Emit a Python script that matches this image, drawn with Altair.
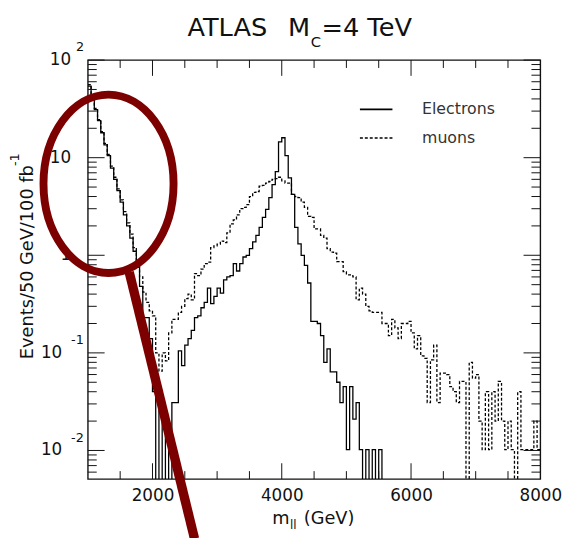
import altair as alt
import pandas as pd

# ---------------- data ----------------
series_names = ["Electrons", "muons"]
bin_low = 1000
bin_width = 50

electrons = [
    54, 41, 31, 24, 18, 13.5, 10.5, 7.8, 6.0, 4.6,
    3.5, 2.6, 2.0, 1.5, 1.1, 0.75, 0.48, 0.23, 0.23, 0.14,
    0.04, 0, 0.03, 0, 0.02, 0, 0.031, 0.031, 0.105, 0.074,
    0.12, 0.14, 0.17, 0.23, 0.24, 0.29, 0.33, 0.46, 0.32, 0.38,
    0.46, 0.41, 0.56, 0.6, 0.62, 0.82, 0.69, 0.82, 0.96, 1.0,
    1.17, 1.37, 1.6, 1.93, 2.44, 2.95, 3.9, 5.3, 7.2, 14.5,
    16.0, 10.5, 6.2, 4.2, 1.93, 1.31, 1.0, 0.79, 0.52, 0.21,
    0.21, 0.2, 0.15, 0.08, 0.11, 0.064, 0.064, 0.05, 0.031, 0.045,
    0.0102, 0.045, 0.021, 0.031, 0.0102, 0, 0.0102, 0, 0.0102, 0,
    0.0102, 0, 0, 0, 0, 0, 0, 0, 0, 0,
    0, 0, 0, 0, 0, 0, 0, 0, 0, 0,
    0, 0, 0, 0, 0, 0, 0, 0, 0, 0,
    0, 0, 0, 0, 0, 0, 0, 0, 0, 0,
    0, 0, 0, 0, 0, 0, 0, 0, 0, 0,
]

muons = [
    56, 42, 32, 24.5, 18.5, 14, 10.8, 8.2, 6.3, 4.8,
    3.7, 2.8, 2.15, 1.65, 1.2, 0.85, 0.6, 0.42, 0.33, 0.27,
    0.24, 0.1, 0.065, 0.1, 0.083, 0.16, 0.22, 0.22, 0.26, 0.3,
    0.36, 0.4, 0.35, 0.65, 0.62, 0.72, 0.82, 0.85, 1.2, 1.25,
    1.3, 1.4, 1.35, 1.7, 2.1, 2.3, 2.6, 3.0, 3.1, 3.3,
    4.0, 4.4, 4.5, 5.1, 5.2, 5.5, 5.7, 6.0, 6.1, 6.3,
    5.8, 5.5, 5.5, 4.2, 4.0, 3.9, 3.5, 3.1, 2.5, 2.44,
    1.86, 1.86, 1.6, 1.5, 1.17, 1.08, 1.05, 0.86, 0.86, 0.68,
    0.63, 0.63, 0.6, 0.35, 0.46, 0.4, 0.3, 0.27, 0.26, 0.26,
    0.26, 0.2, 0.2, 0.15, 0.22, 0.18, 0.14, 0.2, 0.2, 0.21,
    0.16, 0.11, 0.15, 0.093, 0.088, 0.031, 0.085, 0.12, 0.031, 0.062,
    0.062, 0.06, 0.045, 0.04, 0.031, 0.051, 0.051, 0, 0.08, 0.055,
    0.06, 0.02, 0.0102, 0.04, 0.0102, 0.04, 0.02, 0.051, 0.02, 0.0102,
    0.02, 0.0102, 0, 0.04, 0.0102, 0.0102, 0.0102, 0.0102, 0.02, 0.0102,
]
assert len(electrons) == 140 and len(muons) == 140

x_label_values = [2000, 4000, 6000, 8000]
x_major_ticks = [2000, 4000, 6000]
x_minor_ticks = [1500, 2500, 3000, 3500, 4500, 5000, 5500, 6500, 7000, 7500]
y_decades = [0.01, 0.1, 1, 10, 100]
y_label_base = ["10", "10", "1", "10", "10"]
y_label_sup = ["-2", "-1", "", "", "2"]
y_minor_ticks = [k * d for d in [0.001, 0.01, 0.1, 1, 10] for k in range(2, 10)]

x_domain = [1000, 8000]
y_domain = [0.0051, 100]

# annotation (hand-drawn marks on the original figure), in data coordinates
ellipse_center = {"m": 1320, "vplot": 5.4}
stroke_line = {"m": 1640, "vplot": 0.673, "m2": 2650, "v2": 0.00125}

# ---------------- style ----------------
W, H = 459, 425
FONT = "DejaVu Sans"
INK = "#111111"
RED = "#7d0000"

xscale = alt.Scale(domain=x_domain, nice=False, zero=False)
yscale = alt.Scale(type="log", domain=y_domain, nice=False)
xaxis = alt.Axis(values=x_label_values, ticks=False, domain=False, grid=False,
                 labelFont=FONT, labelFontSize=17, labelPadding=9,
                 labelFlush=False, labelOverlap=False, labelColor=INK,
                 format="d", title=None)

rows = []
for name, vals in zip(series_names, [electrons, muons]):
    for i, v in enumerate(vals):
        rows.append({"series": name, "m": bin_low + bin_width * i, "v": v})
    rows.append({"series": name, "m": bin_low + bin_width * len(vals), "v": vals[-1]})
hist = pd.DataFrame(rows)

X = alt.X("m:Q", scale=xscale, axis=xaxis)
Y = alt.Y("vplot:Q", scale=yscale, axis=None)

lines = alt.Chart(hist).transform_calculate(
    vplot="max(datum.v, 0.0001)"
).mark_line(interpolate="step-after", clip=True, color="black", strokeWidth=1.3).encode(
    x=X, y=Y,
    strokeDash=alt.StrokeDash("series:N", scale=alt.Scale(domain=series_names, range=[[1, 0], [3, 2]]), legend=None),
    detail="series:N",
)

layers = [lines]

# x ticks (inside, bottom and top)
for vals, ln in [(x_major_ticks, 16), (x_minor_ticks, 8)]:
    d = pd.DataFrame({"m": vals})
    layers.append(alt.Chart(d).mark_rule(color=INK, strokeWidth=1).encode(
        x=X, y=alt.value(H), y2=alt.value(H - ln)))
    layers.append(alt.Chart(d).mark_rule(color=INK, strokeWidth=1).encode(
        x=X, y=alt.value(0), y2=alt.value(ln)))

# y ticks (inside, left and right)
for vals, ln in [(y_decades, 17), (y_minor_ticks, 9)]:
    d = pd.DataFrame({"vplot": [v for v in vals if y_domain[0] <= v <= y_domain[1]]})
    layers.append(alt.Chart(d).mark_rule(color=INK, strokeWidth=1).encode(
        y=Y, x=alt.value(0), x2=alt.value(ln)))
    layers.append(alt.Chart(d).mark_rule(color=INK, strokeWidth=1).encode(
        y=Y, x=alt.value(W), x2=alt.value(W - ln)))

# y tick labels: "10" with superscript exponent
lab = pd.DataFrame({"vplot": y_decades, "base": y_label_base, "sup": y_label_sup})
lab["n"] = lab["sup"].str.len()
base_dx = {0: -17, 1: -17, 2: -26}
sup_dx = {1: -12, 2: -17}
for n, g in lab.groupby("n"):
    layers.append(alt.Chart(g).mark_text(align="right", baseline="middle", dx=base_dx[n],
                                         font=FONT, fontSize=17, color=INK).encode(
        y=Y, x=alt.value(0), text="base:N"))
    if n > 0:
        layers.append(alt.Chart(g).mark_text(align="left", baseline="middle", dx=sup_dx[n], dy=-13,
                                             font=FONT, fontSize=13, color=INK).encode(
            y=Y, x=alt.value(0), text="sup:N"))

# legend
leg_y = [50, 79]
leg_dash = [[1, 0], [3, 2]]
for name, yy, dash in zip(series_names, leg_y, leg_dash):
    d = pd.DataFrame({"label": [name]})
    layers.append(alt.Chart(d).mark_rule(color="black", strokeWidth=1.6, strokeDash=dash).encode(
        x=alt.value(276), x2=alt.value(309), y=alt.value(yy)))
    layers.append(alt.Chart(d).mark_text(align="left", baseline="middle", font=FONT, fontSize=16,
                                         color="#333333").encode(
        x=alt.value(339), y=alt.value(yy), text="label:N"))

# title and axis titles
def txt(s, x, y, size, align="left", baseline="alphabetic", angle=0):
    return alt.Chart(pd.DataFrame({"t": [s]})).mark_text(
        align=align, baseline=baseline, font=FONT, fontSize=size, color=INK, angle=angle
    ).encode(x=alt.value(x), y=alt.value(y), text="t:N")

layers += [
    txt("ATLAS", 101, -24, 26),
    txt("M", 203, -24, 26),
    txt("C", 226, -13, 15),
    txt("=4 TeV", 237, -24, 26),
    txt("m", 187, 471, 18),
    txt("ll", 205, 476, 12),
    txt("(GeV)", 219, 471, 18),
    txt("Events/50 GeV/100 fb", -61, 205, 18, align="center", baseline="middle", angle=270),
    txt("-1", -74, 101, 13, align="center", baseline="middle", angle=270),
]

# red hand-drawn annotation
ELLIPSE = ("M 0.729,0 C 0.729,0.5523 0.4026,1 0,1 C -0.4026,1 -0.729,0.5523 -0.729,0 "
           "C -0.729,-0.5523 -0.4026,-1 0,-1 C 0.4026,-1 0.729,-0.5523 0.729,0 Z")
layers.append(alt.Chart(pd.DataFrame([stroke_line])).mark_rule(color=RED, strokeWidth=9.5, strokeCap="butt").encode(
    x=X, x2="m2:Q", y=Y, y2="v2:Q"))
layers.append(alt.Chart(pd.DataFrame([ellipse_center])).mark_point(
    shape=ELLIPSE, size=181 * 181, filled=False, stroke=RED, strokeWidth=8, opacity=1).encode(x=X, y=Y))

chart = alt.layer(*layers).properties(
    width=W, height=H,
    autosize=alt.AutoSizeParams(type="none"),
    padding={"left": 81, "top": 49, "right": 22, "bottom": 56},
    background="white",
).configure_view(stroke="#111111", strokeWidth=1.4)

chart.save("out.html", embed_options={"renderer": "svg", "actions": False})
